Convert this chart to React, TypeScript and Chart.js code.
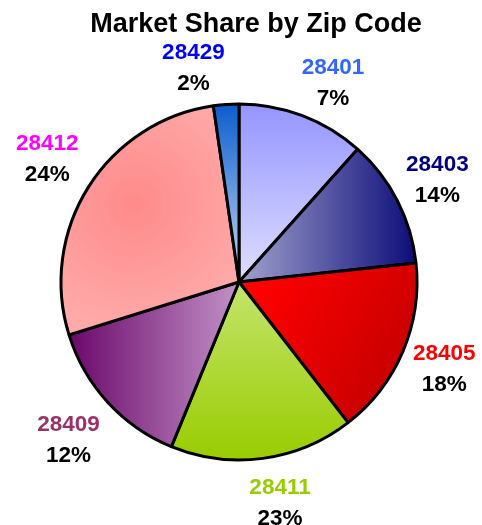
import { useEffect, useRef } from "react";
import { Chart, registerables } from "chart.js";

Chart.register(...registerables);

const chartTitle = "Market Share by Zip Code";
const zipCodes = ["28401", "28403", "28405", "28411", "28409", "28412", "28429"];
const shareValues = [11.6, 11.7, 16.2, 16.7, 14.0, 27.5, 2.3];
const shareLabels = ["7%", "14%", "18%", "23%", "12%", "24%", "2%"];
const zipColors = ["#3366ff", "#000080", "#ff0000", "#99cc00", "#993366", "#ff00ff", "#0000ff"];

// layout-only label adjustments (pixels), not data
const labelNudges: [number, number][] = [
  [14.6, 9.8],
  [0, 0],
  [0, 0],
  [11, 0],
  [-6, 8],
  [-3, -4],
  [-29.5, 9],
];

const FONT = "'Liberation Sans', Arial, Helvetica, sans-serif";

function sliceFill(ctx: CanvasRenderingContext2D, area: any, i: number) {
  const cx = (area.left + area.right) / 2;
  const cy = (area.top + area.bottom) / 2;
  const r = Math.min(area.right - area.left, area.bottom - area.top) / 2;
  let g: CanvasGradient;
  switch (i) {
    case 0:
      g = ctx.createLinearGradient(0, cy - r, 0, cy);
      g.addColorStop(0, "#9494ff");
      g.addColorStop(1, "#dedeff");
      return g;
    case 1:
      g = ctx.createLinearGradient(cx, 0, cx + r, 0);
      g.addColorStop(0, "#a2a2ce");
      g.addColorStop(1, "#0a0a78");
      return g;
    case 2:
      g = ctx.createLinearGradient(cx + 20, cy, cx + r * 0.85, cy + r * 0.45);
      g.addColorStop(0, "#ff0000");
      g.addColorStop(1, "#cc0000");
      return g;
    case 3:
      g = ctx.createLinearGradient(0, cy, 0, cy + r);
      g.addColorStop(0, "#c4e46c");
      g.addColorStop(1, "#99cc00");
      return g;
    case 4:
      g = ctx.createLinearGradient(cx - r, 0, cx, 0);
      g.addColorStop(0, "#660066");
      g.addColorStop(1, "#c292c6");
      return g;
    case 5:
      g = ctx.createRadialGradient(cx - 105, cy - 78, 0, cx - 105, cy - 78, 130);
      g.addColorStop(0, "#ff8a8a");
      g.addColorStop(1, "#ffaaaa");
      return g;
    default:
      g = ctx.createLinearGradient(0, cy - r, 0, cy);
      g.addColorStop(0, "#0a5ccc");
      g.addColorStop(1, "#c6daf4");
      return g;
  }
}

const labelPlugin = {
  id: "zipLabels",
  afterDatasetsDraw(chart: any) {
    const ctx: CanvasRenderingContext2D = chart.ctx;
    const meta = chart.getDatasetMeta(0);
    ctx.save();
    ctx.font = `bold 22.5px ${FONT}`;
    ctx.textAlign = "center";
    ctx.textBaseline = "middle";
    meta.data.forEach((arc: any, i: number) => {
      const p = arc.getProps(["x", "y", "startAngle", "endAngle", "outerRadius"], true);
      const mid = (p.startAngle + p.endAngle) / 2;
      const d = p.outerRadius + 45;
      const [nx, ny] = labelNudges[i] || [0, 0];
      const lx = p.x + Math.cos(mid) * d + nx;
      const ly = p.y + Math.sin(mid) * d + ny;
      ctx.fillStyle = zipColors[i];
      ctx.fillText(zipCodes[i], lx, ly - 15.5);
      ctx.fillStyle = "#000000";
      ctx.fillText(shareLabels[i], lx, ly + 15.5);
    });
    ctx.restore();
  },
  afterDraw(chart: any) {
    const ctx: CanvasRenderingContext2D = chart.ctx;
    ctx.save();
    ctx.font = `bold 27px ${FONT}`;
    ctx.textAlign = "center";
    ctx.textBaseline = "alphabetic";
    ctx.fillStyle = "#000000";
    ctx.fillText(chartTitle, 256, 32.3);
    ctx.restore();
  },
};

export default function App() {
  const ref = useRef<HTMLCanvasElement | null>(null);
  useEffect(() => {
    document.body.style.margin = "0";
    const canvas = ref.current;
    if (!canvas) return;
    const chart = new Chart(canvas, {
      type: "pie",
      data: {
        labels: zipCodes,
        datasets: [
          {
            data: shareValues,
            backgroundColor: (c: any) => {
              const a = c.chart.chartArea;
              if (!a) return "#cccccc";
              return sliceFill(c.chart.ctx, a, c.dataIndex);
            },
            borderColor: "#000000",
            borderWidth: 3,
          },
        ],
      },
      options: {
        responsive: false,
        animation: false,
        layout: { padding: { left: 59.5, right: 63.5, top: 102.5, bottom: 63.5 } },
        plugins: {
          legend: { display: false },
          title: { display: false },
          tooltip: { enabled: false },
        },
      },
      plugins: [labelPlugin],
    });
    return () => chart.destroy();
  }, []);
  return (
    <div style={{ width: 482, height: 525, background: "#ffffff" }}>
      <canvas ref={ref} width={482} height={525} />
    </div>
  );
}
